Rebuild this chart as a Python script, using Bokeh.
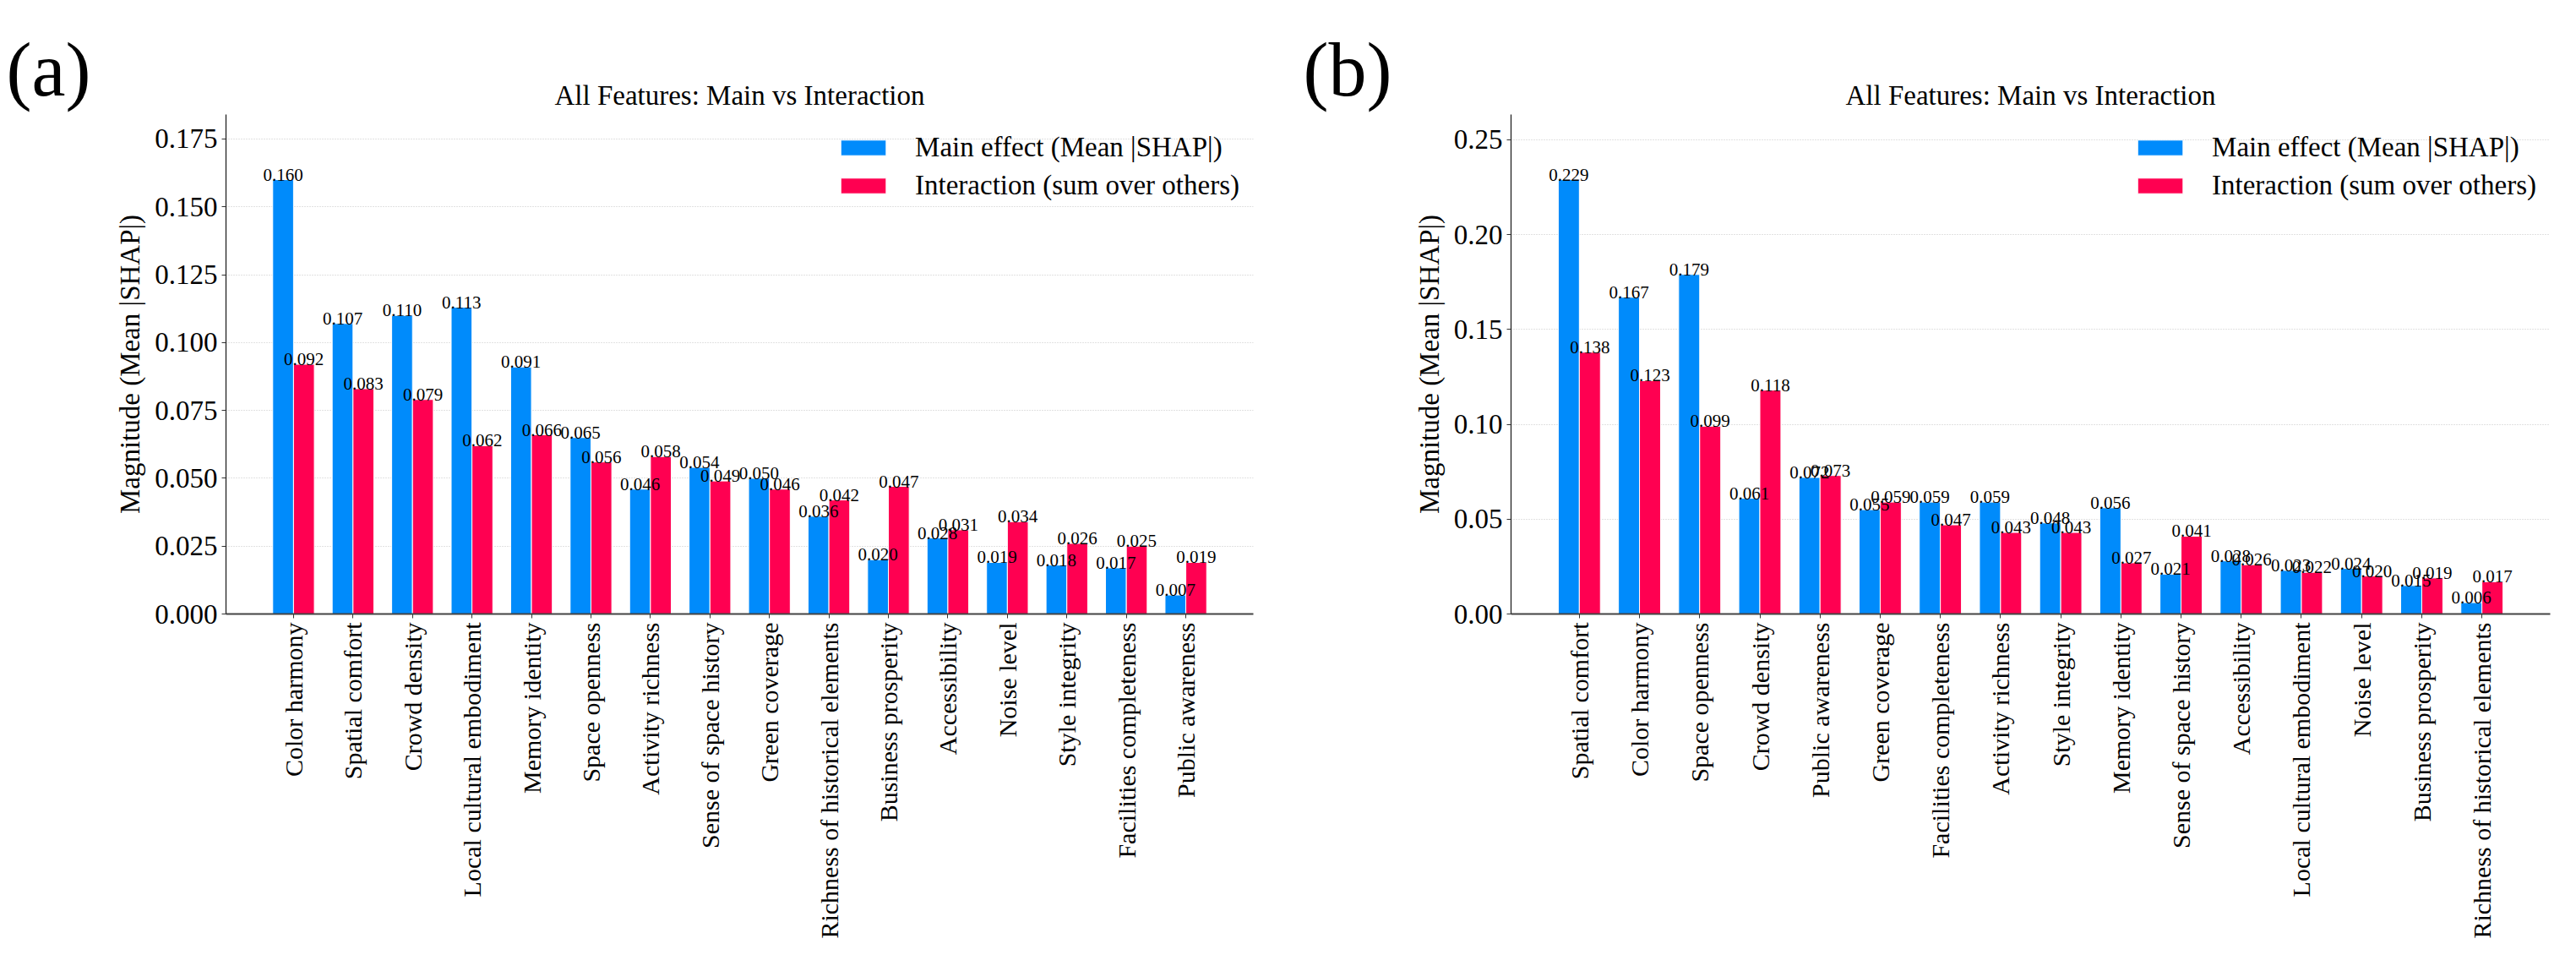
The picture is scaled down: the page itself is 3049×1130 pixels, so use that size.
import numpy as np

from bokeh.core.properties import value
from bokeh.embed import file_html
from bokeh.layouts import row
from bokeh.models import (ColumnDataSource, FixedTicker, Label, Legend, LegendItem,
                          NumeralTickFormatter, Range1d)
from bokeh.plotting import figure
from bokeh.resources import INLINE
from bokeh.transform import dodge

FONT = "Liberation Serif"
BLUE = "#008bfb"
RED = "#ff0051"

# (a) features, sorted by main + interaction
features_a = ["Color harmony", "Spatial comfort", "Crowd density", "Local cultural embodiment",
              "Memory identity", "Space openness", "Activity richness", "Sense of space history",
              "Green coverage", "Richness of historical elements", "Business prosperity",
              "Accessibility", "Noise level", "Style integrity", "Facilities completeness",
              "Public awareness"]
main_a = [0.160, 0.107, 0.110, 0.113, 0.091, 0.065, 0.046, 0.054,
          0.050, 0.036, 0.020, 0.028, 0.019, 0.018, 0.017, 0.007]
inter_a = [0.092, 0.083, 0.079, 0.062, 0.066, 0.056, 0.058, 0.049,
           0.046, 0.042, 0.047, 0.031, 0.034, 0.026, 0.025, 0.019]
yticks_a = [0.0, 0.025, 0.05, 0.075, 0.1, 0.125, 0.15, 0.175]

# (b)
features_b = ["Spatial comfort", "Color harmony", "Space openness", "Crowd density",
              "Public awareness", "Green coverage", "Facilities completeness", "Activity richness",
              "Style integrity", "Memory identity", "Sense of space history", "Accessibility",
              "Local cultural embodiment", "Noise level", "Business prosperity",
              "Richness of historical elements"]
main_b = [0.229, 0.167, 0.179, 0.061, 0.072, 0.055, 0.059, 0.059,
          0.048, 0.056, 0.021, 0.028, 0.023, 0.024, 0.015, 0.006]
inter_b = [0.138, 0.123, 0.099, 0.118, 0.073, 0.059, 0.047, 0.043,
           0.043, 0.027, 0.041, 0.026, 0.022, 0.020, 0.019, 0.017]
yticks_b = [0.0, 0.05, 0.1, 0.15, 0.2, 0.25]

TITLE = "All Features: Main vs Interaction"
YLABEL = "Magnitude (Mean |SHAP|)"


def make_panel(tag, features, main, inter, yticks, yfmt, width, border_left, border_right, tag_x):
    n = len(features)
    source = ColumnDataSource(data=dict(
        idx=list(range(n)),
        main=main, inter=inter,
        main_txt=[f"{v:.3f}" for v in main],
        inter_txt=[f"{v:.3f}" for v in inter],
    ))
    ymax = max(max(main), max(inter)) * 1.15
    pad = 0.35 + 0.05 * (n - 1 + 0.7)

    p = figure(width=width, height=1120, tools="", toolbar_location=None,
               output_backend="svg",
               x_range=Range1d(-pad, n - 1 + pad), y_range=Range1d(0, ymax),
               min_border_left=border_left, min_border_right=border_right,
               min_border_top=135, min_border_bottom=394)
    p.outline_line_color = None
    p.background_fill_color = "white"

    r_main = p.vbar(x=dodge("idx", -0.175, range=p.x_range), top="main", width=0.35,
                    source=source, fill_color=BLUE, line_color="white", line_width=1)
    r_inter = p.vbar(x=dodge("idx", 0.175, range=p.x_range), top="inter", width=0.35,
                     source=source, fill_color=RED, line_color="white", line_width=1)

    for col, txt, off in (("main", "main_txt", -0.175), ("inter", "inter_txt", 0.175)):
        p.text(x=dodge("idx", off, range=p.x_range), y=col, text=txt, source=source,
               text_font=value(FONT), text_font_size="21px", text_color="black",
               text_align="center", text_baseline="alphabetic", y_offset=-6)

    p.title.text = TITLE
    p.title.align = "center"
    p.title.text_font = FONT
    p.title.text_font_size = "33px"
    p.title.text_font_style = "normal"
    p.title.text_color = "black"

    p.xgrid.grid_line_color = None
    p.ygrid.grid_line_color = "#c4c4c4"
    p.ygrid.grid_line_dash = "1 2"
    p.ygrid.grid_line_width = 1

    p.yaxis.ticker = FixedTicker(ticks=yticks)
    p.yaxis.formatter = NumeralTickFormatter(format=yfmt)
    p.yaxis.axis_label = YLABEL
    p.yaxis.axis_label_text_font = FONT
    p.yaxis.axis_label_text_font_size = "33px"
    p.yaxis.axis_label_text_font_style = "normal"
    p.yaxis.axis_label_text_color = "black"
    p.yaxis.axis_label_standoff = 8
    p.yaxis.major_label_text_font_size = "33px"
    p.yaxis.axis_line_color = "#222222"
    p.yaxis.axis_line_width = 1.3

    p.xaxis.ticker = FixedTicker(ticks=list(range(n)))
    p.xaxis.major_label_overrides = {i: name for i, name in enumerate(features)}
    p.xaxis.major_label_orientation = np.pi / 2
    p.xaxis.major_label_text_font_size = "30px"
    p.xaxis.axis_line_color = "#444444"
    p.xaxis.axis_line_width = 2

    for ax in (p.xaxis, p.yaxis):
        ax.major_label_text_font = FONT
        ax.major_label_text_color = "black"
        ax.major_label_standoff = 5
        ax.major_tick_in = 0
        ax.major_tick_out = 5
        ax.major_tick_line_color = "#333333"
        ax.minor_tick_line_color = None

    legend = Legend(items=[LegendItem(label="Main effect (Mean |SHAP|)", renderers=[r_main]),
                           LegendItem(label="Interaction (sum over others)", renderers=[r_inter])],
                    location="top_right", margin=16, padding=14, spacing=8,
                    glyph_width=67, glyph_height=23, label_standoff=28,
                    label_text_font=FONT, label_text_font_size="33px",
                    label_text_color="black",
                    title=" ", title_text_font_size="4px", title_standoff=0,
                    border_line_color=None, background_fill_alpha=0)
    p.add_layout(legend)

    # panel tag sits left of the y axis, outside the frame
    p.add_layout(Label(x=tag_x, y=82, x_units="canvas", y_units="canvas", text=tag,
                       text_font=FONT, text_font_size="90px", text_color="black",
                       text_baseline="alphabetic"), "left")
    return p


left = make_panel("(a)", features_a, main_a, inter_a, yticks_a, "0.000",
                  1524, 267, 41, 7)
right = make_panel("(b)", features_b, main_b, inter_b, yticks_b, "0.00",
                   1509, 264, 15, 18)

layout = row(left, right)
open("out.html", "w").write(file_html(layout, INLINE))
